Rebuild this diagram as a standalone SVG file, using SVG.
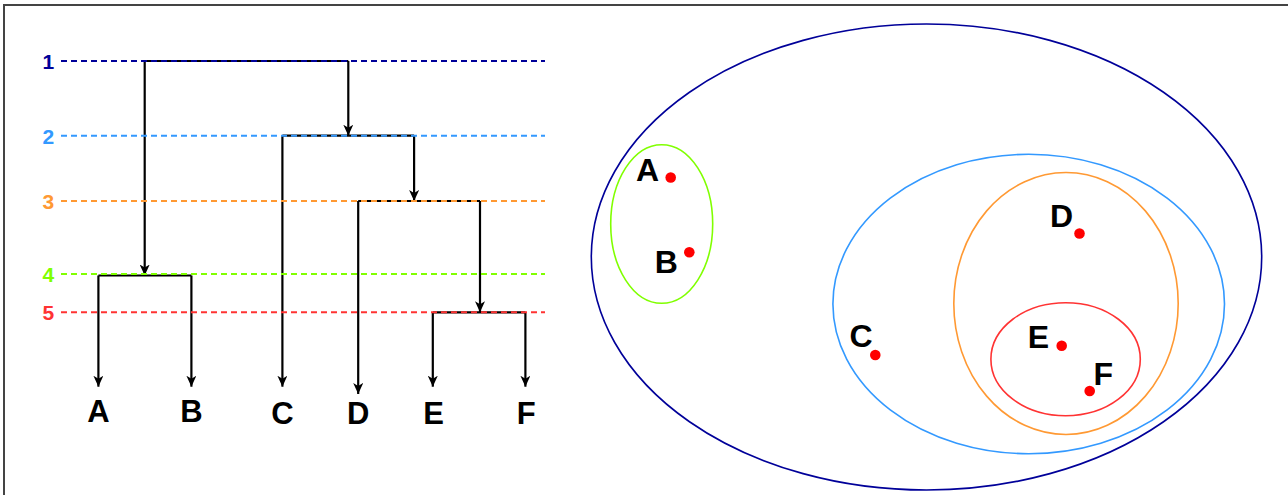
<svg xmlns="http://www.w3.org/2000/svg" width="1288" height="495" viewBox="0 0 1288 495">
<style>
.lvl{fill:none;stroke-width:2;stroke-dasharray:6 4}
.num{font-family:"Liberation Sans",Arial,sans-serif;font-weight:bold;font-size:21px;text-anchor:middle}
.leaf{font-family:"Liberation Sans",Arial,sans-serif;font-weight:bold;font-size:31px;text-anchor:middle;fill:#000}
.pt{font-family:"Liberation Sans",Arial,sans-serif;font-weight:bold;font-size:32px;text-anchor:middle;fill:#000}
.edge{fill:none;stroke:#000;stroke-width:2.2}
.arr{marker-end:url(#ah)}
.dot{fill:#FF0000}
.cl{fill:none;stroke-width:1.6}
</style>
<defs>
<marker id="ah" markerUnits="userSpaceOnUse" markerWidth="11" markerHeight="10" viewBox="0 0 11 10" refX="11" refY="5" orient="auto">
<path d="M0,0 L11,5 L0,10 L3,5 Z" fill="#000"/>
</marker>
</defs>
<rect x="4" y="5" width="1300" height="500" fill="#fff" stroke="#444" stroke-width="2"/>

<g id="connectors">
<path class="edge" d="M144.7,61 L348.3,61"/>
<path class="edge arr" d="M144.7,61 L144.7,275.5"/>
<path class="edge arr" d="M348.3,61 L348.3,135.7"/>
<path class="edge" d="M282.4,135.7 L414.1,135.7"/>
<path class="edge arr" d="M282.4,135.7 L282.4,386.7"/>
<path class="edge arr" d="M414.1,135.7 L414.1,201"/>
<path class="edge" d="M358.2,201 L480,201"/>
<path class="edge arr" d="M358.2,201 L358.2,394"/>
<path class="edge arr" d="M480,201 L480,312.3"/>
<path class="edge" d="M98.4,275.5 L191.4,275.5"/>
<path class="edge arr" d="M98.4,275.5 L98.4,386.7"/>
<path class="edge arr" d="M191.4,275.5 L191.4,386.7"/>
<path class="edge" d="M432.8,312.3 L525.4,312.3"/>
<path class="edge arr" d="M432.8,312.3 L432.8,386.7"/>
<path class="edge arr" d="M525.4,312.3 L525.4,386.7"/>
</g>

<g id="levels">
<g id="level1"><line class="lvl" x1="61" y1="61" x2="545" y2="61" stroke="#000099"/><text class="num" x="48.3" y="69.3" fill="#000099">1</text></g>
<g id="level2"><line class="lvl" x1="61" y1="135.7" x2="545" y2="135.7" stroke="#3399FF"/><text class="num" x="48.3" y="143.5" fill="#3399FF">2</text></g>
<g id="level3"><line class="lvl" x1="61" y1="201" x2="545" y2="201" stroke="#FF9933"/><text class="num" x="48.3" y="208.8" fill="#FF9933">3</text></g>
<g id="level4"><line class="lvl" x1="61" y1="274" x2="545" y2="274" stroke="#80FF00"/><text class="num" x="48.3" y="281.8" fill="#80FF00">4</text></g>
<g id="level5"><line class="lvl" x1="61" y1="312.3" x2="545" y2="312.3" stroke="#FF3333"/><text class="num" x="48.3" y="320" fill="#FF3333">5</text></g>
</g>

<g id="leaves">
<g id="leafA"><text class="leaf" x="98.4" y="421.7">A</text></g>
<g id="leafB"><text class="leaf" x="191.4" y="421.7">B</text></g>
<g id="leafC"><text class="leaf" x="282.4" y="424">C</text></g>
<g id="leafD"><text class="leaf" x="358.2" y="424">D</text></g>
<g id="leafE"><text class="leaf" x="433.6" y="424">E</text></g>
<g id="leafF"><text class="leaf" x="526.2" y="424">F</text></g>
</g>

<g id="clusters">
<ellipse id="c1" class="cl" cx="926.5" cy="257" rx="335.2" ry="233" stroke="#000099" stroke-width="2"/>
<ellipse id="c4" class="cl" cx="661.7" cy="224" rx="51" ry="79.3" stroke="#80FF00"/>
<ellipse id="c2" class="cl" cx="1028.7" cy="304" rx="195.8" ry="149.7" stroke="#3399FF"/>
<ellipse id="c3" class="cl" cx="1066" cy="303.5" rx="112.2" ry="131" stroke="#FF9933"/>
<ellipse id="c5" class="cl" cx="1065.6" cy="359.2" rx="74.7" ry="56.5" stroke="#FF3333"/>
</g>

<g id="points">
<g id="pA"><circle class="dot" cx="670.7" cy="177.5" r="5.3"/><text class="pt" x="647.5" y="180.7">A</text></g>
<g id="pB"><circle class="dot" cx="689.3" cy="252.3" r="5.3"/><text class="pt" x="666.3" y="272.7">B</text></g>
<g id="pC"><circle class="dot" cx="875.3" cy="355" r="5.3"/><text class="pt" x="861" y="346.7">C</text></g>
<g id="pD"><circle class="dot" cx="1079.5" cy="233.5" r="5.3"/><text class="pt" x="1061.5" y="226.7">D</text></g>
<g id="pE"><circle class="dot" cx="1061.7" cy="345.7" r="5.3"/><text class="pt" x="1038.5" y="348.3">E</text></g>
<g id="pF"><circle class="dot" cx="1089.7" cy="391" r="5.3"/><text class="pt" x="1103.3" y="384.7">F</text></g>
</g>
</svg>
